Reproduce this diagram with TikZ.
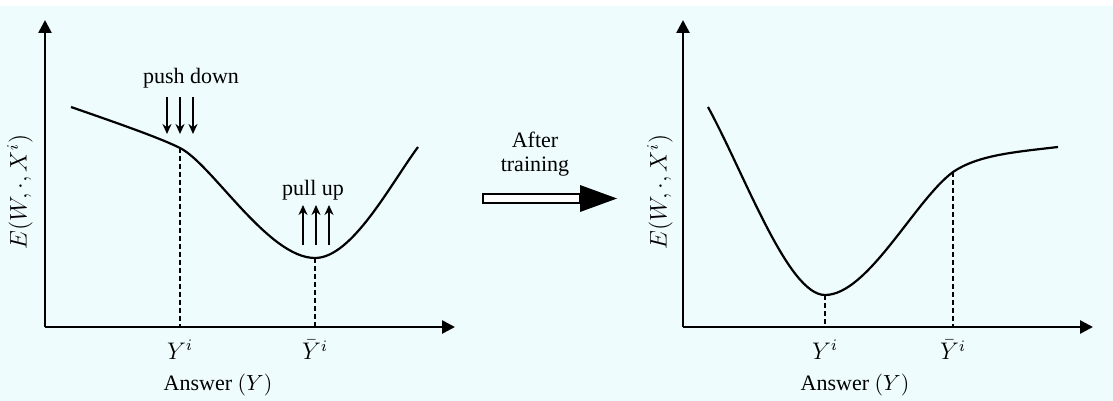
\documentclass[tikz,border=0pt]{standalone}
\usepackage{fontspec}
\setmainfont{Liberation Serif}
\usetikzlibrary{arrows.meta,positioning,calc}
\definecolor{PanelCyan}{RGB}{239,252,253}

\begin{document}
\begin{tikzpicture}[x=0.5pt,y=-0.5pt,
  axis/.style ={line width=1.3pt, -{Triangle[length=6.5pt,width=6.5pt]}},
  curve/.style={line width=1.1pt},
  guide/.style={line width=1pt, dash pattern=on 2.5pt off 1.5pt},
  push/.style ={line width=0.9pt, -{Stealth[length=5pt,width=4.5pt]}},
  lbl/.style  ={font=\fontsize{11}{13}\selectfont, inner sep=0pt},
  mlbl/.style ={font=\fontsize{12}{14}\selectfont, inner sep=0pt}
]
\useasboundingbox (0,0) rectangle (1113,401);
\fill[PanelCyan] (0,6) rectangle (1113,401);

% left panel: before training
\coordinate (o1)  at (45,327);
\coordinate (yt1) at (45,20);
\coordinate (xt1) at (455,327);
\coordinate (p1)  at (180,148);
\coordinate (q1)  at (315,258);
\draw[axis] (o1) -- (yt1);
\draw[axis] (o1) -- (xt1);
\draw[curve] (71,107) .. controls (120,124) and (160,138) .. (p1)
             .. controls (212,164) and (268,258) .. (q1)
             .. controls (352,258) and (390,185) .. (418,147);
\draw[guide] (p1) -- (p1 |- o1);
\draw[guide] (q1) -- (q1 |- o1);

\node[lbl] (push) at (191,78) {push down};
\foreach \dx in {-13,0,13}
  \draw[push] ($(p1)+(\dx,-51)$) -- ($(p1)+(\dx,-14)$);
\node[lbl] (pull) at (313,190) {pull up};
\foreach \dx in {-12,1,14}
  \draw[push] ($(q1)+(\dx,-13)$) -- ($(q1)+(\dx,-53)$);

\node[mlbl] (yi1)  at (180,350) {$Y^i$};
\node[mlbl] (ybi1) at (315,350) {$\bar{Y}^i$};
\node[lbl]  (ans1) at (218,385) {Answer $(Y)$};
\node[mlbl, rotate=90] (e1) at (20,192) {$E(W,\cdot,X^i)$};

% middle arrow
\node[lbl] (after) at (535,140) {After};
\node[lbl, below=4pt of after] (train) {training};
\draw[line width=0.9pt, fill=white] (483,194) rectangle (580,203);
\fill (580,185) -- (617,198.5) -- (580,212) -- cycle;

% right panel: after training
\coordinate (o2)  at (683,327);
\coordinate (yt2) at (683,20);
\coordinate (xt2) at (1093,327);
\coordinate (p2)  at (825,295);
\coordinate (q2)  at (953,172);
\draw[axis] (o2) -- (yt2);
\draw[axis] (o2) -- (xt2);
\draw[curve] (708,107) .. controls (745,175) and (788,295) .. (p2)
             .. controls (868,295) and (915,200) .. (q2)
             .. controls (978,155) and (1015,152) .. (1058,147);
\draw[guide] (p2) -- (p2 |- o2);
\draw[guide] (q2) -- (q2 |- o2);

\node[mlbl] (yi2)  at (825,350) {$Y^i$};
\node[mlbl] (ybi2) at (953,350) {$\bar{Y}^i$};
\node[lbl]  (ans2) at (855,385) {Answer $(Y)$};
\node[mlbl, rotate=90] (e2) at (660,192) {$E(W,\cdot,X^i)$};
\end{tikzpicture}
\end{document}
